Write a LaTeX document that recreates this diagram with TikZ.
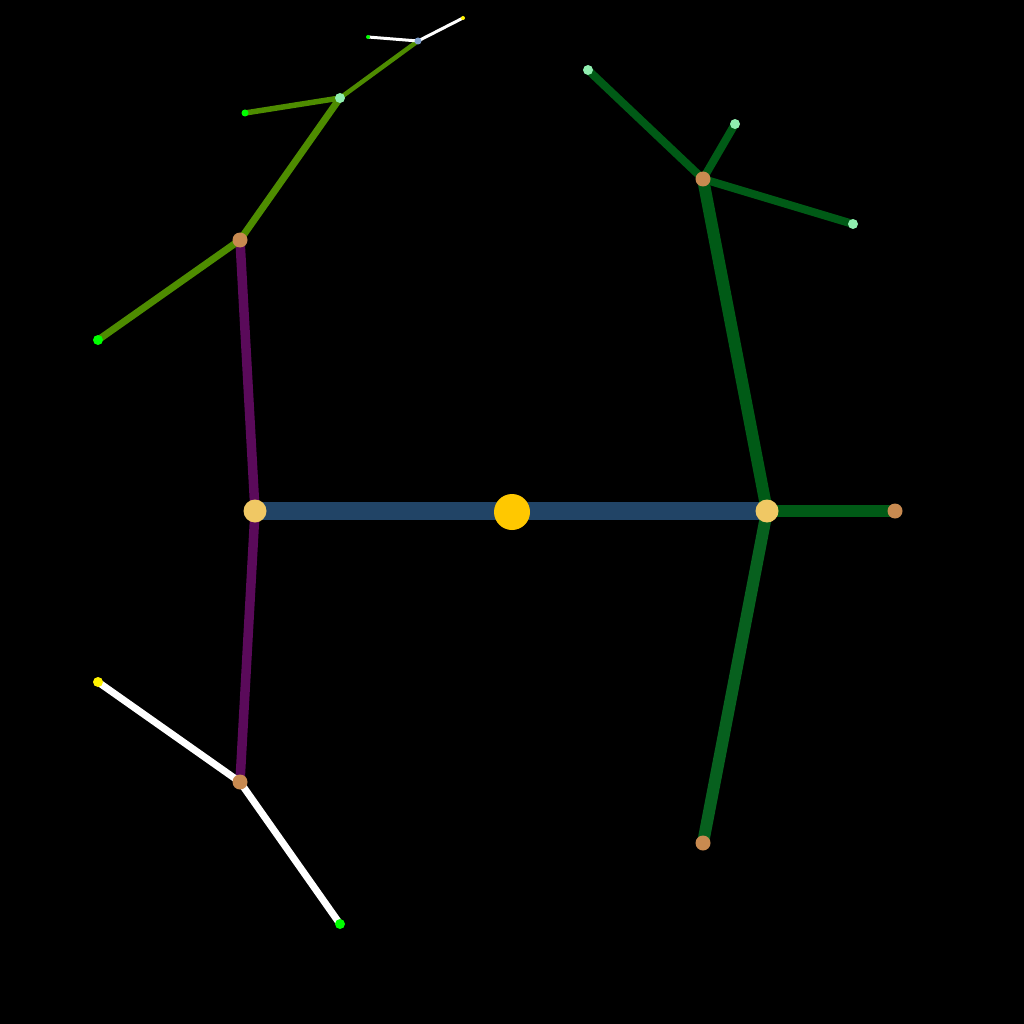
\documentclass[tikz,border=0pt]{standalone}
\usetikzlibrary{backgrounds}
\definecolor{hub}{HTML}{FFC800}
\definecolor{tan}{HTML}{F0C864}
\definecolor{rust}{HTML}{C88A50}
\definecolor{linkblue}{HTML}{214466}
\definecolor{plum}{HTML}{5A0A5A}
\definecolor{olive}{HTML}{4E8C00}
\definecolor{pine}{HTML}{005A16}
\definecolor{pinelight}{HTML}{07601E}
\definecolor{mint}{HTML}{90EEB0}
\definecolor{lime}{HTML}{00FF00}
\definecolor{steel}{HTML}{80A0CC}

\begin{document}
\begin{tikzpicture}[x=1pt, y=-1pt,
    dot/.style={circle, inner sep=0pt, minimum size=#1},
    link/.style={line width=#1}]
    % frame
        \useasboundingbox (0,0) rectangle (1024,1024);

    % hub and main joints
        \node[dot=36, fill=hub] (C) at (512,512) {};
        \node[dot=23, fill=tan] (L) at (255,511) {};
        \node[dot=23, fill=tan] (R) at (767,511) {};

    % left branch
        \node[dot=15, fill=rust] (LU) at (240,240) {};
        \node[dot=15, fill=rust] (LD) at (240,782) {};
        \node[dot=10, fill=lime] (LUa) at (98,340) {};
        \node[dot=10, fill=mint] (LUb) at (340,98) {};
        \node[dot=7, fill=lime] (LUc) at (245,113) {};
        \node[dot=7, fill=steel] (LUd) at (418,41) {};
        \node[dot=4, fill=lime] (LUe) at (368,37) {};
        \node[dot=4, fill=yellow] (LUf) at (463,18) {};
        \node[dot=10, fill=yellow] (LDa) at (98,682) {};
        \node[dot=10, fill=lime] (LDb) at (340,924) {};

    % right branch
        \node[dot=15, fill=rust] (RU) at (703,179) {};
        \node[dot=15, fill=rust] (RD) at (703,843) {};
        \node[dot=15, fill=rust] (RE) at (895,511) {};
        \node[dot=10, fill=mint] (RUa) at (588,70) {};
        \node[dot=10, fill=mint] (RUb) at (735,124) {};
        \node[dot=10, fill=mint] (RUc) at (853,224) {};

    \begin{pgfonlayer}{background}
        \fill[black] (0,0) rectangle (1024,1024);
    % links
        \draw[link=18, linkblue] (L.center) -- (R.center);
        \draw[link=9.5, plum] (L.center) -- (LU.center);
        \draw[link=9.5, plum] (L.center) -- (LD.center);
        \draw[link=7, olive] (LU.center) -- (LUa.center);
        \draw[link=7, olive] (LU.center) -- (LUb.center);
        \draw[link=5.5, olive] (LUb.center) -- (LUc.center);
        \draw[link=4.5, olive] (LUb.center) -- (LUd.center);
        \draw[link=3, white] (LUd.center) -- (LUe.center);
        \draw[link=3, white] (LUd.center) -- (LUf.center);
        \draw[link=7, white] (LD.center) -- (LDa.center);
        \draw[link=7, white] (LD.center) -- (LDb.center);
        \draw[link=12, pine] (R.center) -- (RU.center);
        \draw[link=12, pinelight] (R.center) -- (RD.center);
        \draw[link=12, pine] (R.center) -- (RE.center);
        \draw[link=8, pine] (RU.center) -- (RUa.center);
        \draw[link=8, pine] (RU.center) -- (RUb.center);
        \draw[link=8, pine] (RU.center) -- (RUc.center);
    \end{pgfonlayer}
\end{tikzpicture}
\end{document}
